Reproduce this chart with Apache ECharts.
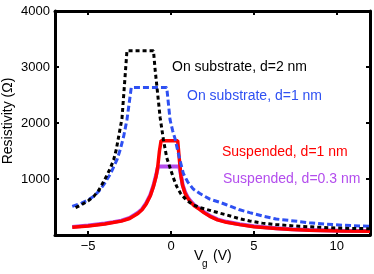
<!DOCTYPE html>
<html>
<head>
<meta charset="utf-8">
<script src="https://cdn.jsdelivr.net/npm/echarts@6/dist/echarts.min.js"></script>
<style>html,body{margin:0;padding:0;background:#fff}#c{width:374px;height:274px}</style>
</head>
<body>
<div id="c"></div>
<script>
// Data (Vg in volts, resistivity in ohms)
var blackV = [-5.76,-5.4,-5.0,-4.66,-4.36,-4.06,-3.86,-3.66,-3.46,-3.3,-3.16,-2.96,-2.66,-1.06,-0.96,-0.8,-0.66,-0.46,-0.26,-0.06,0.14,0.34,0.6,0.94,1.3,1.74,2.34,2.94,3.34,4.14,4.74,5.5,6.34,7.74,8.34,9.5,10.74,12];
var blackR = [490,540,610,690,800,957,1070,1196,1344,1530,1759,2080,3290,3290,2950,2500,2100,1700,1380,1200,1020,868,730,620,545,490,440,390,360,290,250,212,185,155,148,130,118,112];
var blueV = [-5.96,-5.4,-5.0,-4.66,-4.36,-4.06,-3.66,-3.26,-3.06,-2.86,-2.66,-2.4,-0.26,-0.06,0.1,0.24,0.5,0.74,1.0,1.34,1.74,2.34,2.94,3.34,4.14,4.74,5.5,6.34,7.74,8.34,9.3,10.34,12];
var blueR = [510,570,625,690,780,898,1090,1344,1530,1759,2057,2633,2633,2057,1860,1720,1380,1100,950,820,740,640,585,540,450,400,340,285,240,218,195,175,155];
var redV = [-5.96,-5.0,-4.0,-3.5,-3.0,-2.5,-2.0,-1.75,-1.5,-1.25,-1.06,-0.9,-0.8,-0.7,-0.6,0.4,0.47,0.54,0.6,0.7,0.84,1.0,1.14,1.4,1.74,2.0,2.34,2.8,3.34,4.14,5.0,6.34,7.3,8.34,10.3,12];
var redR = [137,160,198,222,248,295,385,450,555,700,868,1050,1225,1500,1685,1685,1450,1225,1050,880,750,660,601,520,453,395,333,270,226,185,148,114,97,84,72,66];
var purpleV = [-5.96,-5.0,-4.0,-3.5,-3.0,-2.5,-2.0,-1.75,-1.5,-1.25,-1.06,-0.9,-0.78,0.5,0.6,0.7,0.84,1.0,1.14,1.4,1.74,2.0,2.34,2.8,3.34,4.14,5.0,6.34,7.3,8.34,10.3,12];
var purpleR = [145,168,206,230,257,305,396,462,568,715,885,1070,1225,1225,1065,895,768,676,617,535,466,408,343,280,235,192,155,120,103,90,78,72];
var xTicks = [-5,0,5,10];
var yTicks = [1000,2000,3000,4000];
var labels = ["On substrate, d=2 nm","On substrate, d=1 nm","Suspended, d=1 nm","Suspended, d=0.3 nm"];

function pairs(a,b){return a.map(function(v,i){return [v,b[i]];});}
var FONT = 'Liberation Sans, Arial, sans-serif';
var BLUE = '#2e50f2', PURPLE = '#b34ded', RED = '#ff0000';

var chart = echarts.init(document.getElementById('c'));
var axLine = {show:true, onZero:false, lineStyle:{color:'#000', width:3}};
var tick = {show:true, inside:true, length:4, lineStyle:{color:'#000', width:2}};
chart.setOption({
  animation:false,
  grid:{left:55, top:11, right:4, bottom:39, containLabel:false},
  xAxis:[
    {type:'value', min:-7, max:12, position:'bottom', axisLine:axLine,
     axisTick:Object.assign({customValues:xTicks}, tick),
     axisLabel:{customValues:xTicks, fontSize:13, fontFamily:FONT, color:'#000', margin:5,
       formatter:function(v){return String(v).replace('-','\u2212');}},
     splitLine:{show:false}},
    {type:'value', min:-7, max:12, position:'top', axisLine:axLine,
     axisTick:Object.assign({customValues:xTicks}, tick),
     axisLabel:{show:false}, splitLine:{show:false}}
  ],
  yAxis:[
    {type:'value', min:0, max:4000, interval:1000, position:'left', axisLine:axLine,
     axisTick:tick,
     axisLabel:{fontSize:13, fontFamily:FONT, color:'#000', margin:5, showMinLabel:false,
       formatter:function(v){return String(v);}},
     splitLine:{show:false}},
    {type:'value', min:0, max:4000, interval:1000, position:'right', axisLine:axLine,
     axisTick:tick, axisLabel:{show:false}, splitLine:{show:false}}
  ],
  series:[
    {type:'line', data:pairs(purpleV,purpleR), showSymbol:false, lineStyle:{color:PURPLE, width:4}, z:2},
    {type:'line', data:pairs(redV,redR), showSymbol:false, lineStyle:{color:RED, width:3.5}, z:3},
    {type:'line', data:pairs(blueV,blueR), showSymbol:false, lineStyle:{color:BLUE, width:3, type:[6,3]}, z:4},
    {type:'line', data:pairs(blackV,blackR), showSymbol:false, lineStyle:{color:'#000', width:3, type:[4,3]}, z:5}
  ],
  graphic:[
    {type:'text', x:172, y:67, style:{text:labels[0], fill:'#000', font:'14px '+FONT, align:'left', verticalAlign:'middle'}},
    {type:'text', x:187, y:96, style:{text:labels[1], fill:BLUE, font:'14px '+FONT, align:'left', verticalAlign:'middle'}},
    {type:'text', x:222, y:152, style:{text:labels[2], fill:RED, font:'14px '+FONT, align:'left', verticalAlign:'middle'}},
    {type:'text', x:223, y:179, style:{text:labels[3], fill:PURPLE, font:'14px '+FONT, align:'left', verticalAlign:'middle'}},
    {type:'text', x:8, y:121, rotation:Math.PI/2, style:{text:'Resistivity (\u03A9)', fill:'#000', font:'14px '+FONT, align:'center', verticalAlign:'middle'}},
    {type:'text', x:194, y:256, style:{text:'V', fill:'#000', font:'14px '+FONT, align:'left', verticalAlign:'middle'}},
    {type:'text', x:202, y:264, style:{text:'g', fill:'#000', font:'10px '+FONT, align:'left', verticalAlign:'middle'}},
    {type:'text', x:213, y:256, style:{text:'(V)', fill:'#000', font:'14px '+FONT, align:'left', verticalAlign:'middle'}}
  ]
});
</script>
</body>
</html>
